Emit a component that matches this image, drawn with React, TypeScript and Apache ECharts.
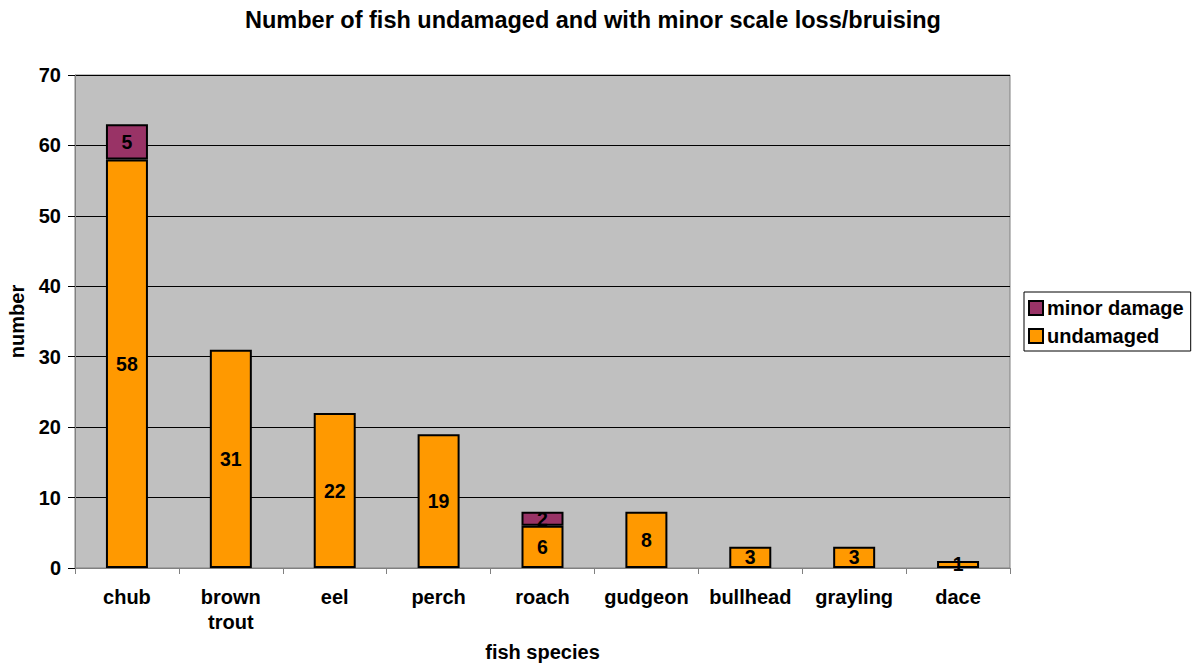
import React, { useEffect, useRef } from "react";
import * as echarts from "echarts";

const categories = ["chub", "brown\ntrout", "eel", "perch", "roach", "gudgeon", "bullhead", "grayling", "dace"];
const undamaged = [58, 31, 22, 19, 6, 8, 3, 3, 1];
const minorDamage = [5, null, null, null, 2, null, null, null, null];
const yTicks = { min: 0, max: 70, interval: 10 };

const FONT = "'Liberation Sans', Arial, sans-serif";

export default function App() {
  const ref = useRef<HTMLDivElement>(null);
  useEffect(() => {
    if (!ref.current) return;
    const chart = echarts.init(ref.current, null, { renderer: "svg" });
    const labelStyle = {
      show: true,
      position: "inside" as const,
      color: "#000",
      fontWeight: "bold" as const,
      fontSize: 19.5,
      fontFamily: FONT,
    };
    chart.setOption({
      animation: false,
      backgroundColor: "#fff",
      title: {
        text: "Number of fish undamaged and with minor scale loss/bruising",
        left: 588,
        textAlign: "center",
        top: 3,
        textStyle: { fontFamily: FONT, fontWeight: "bold", fontSize: 23.5, color: "#000" },
      },
      grid: {
        left: 75,
        right: 184,
        top: 75,
        bottom: 96,
        outerBoundsMode: "none",
        containLabel: false,
        show: true,
        backgroundColor: "#C0C0C0",
        borderColor: "#808080",
        borderWidth: 1,
      },
      legend: {
        orient: "vertical",
        left: 1024,
        top: 292,
        data: ["minor damage", "undamaged"],
        icon: "rect",
        borderColor: "#000",
        borderWidth: 1,
        padding: [6, 7, 5, 4],
        itemGap: 8,
        itemWidth: 14,
        itemHeight: 14,
        textStyle: { fontFamily: FONT, fontWeight: "bold", fontSize: 20, color: "#000", padding: [0, 0, 0, -1] },
      },
      xAxis: {
        type: "category",
        data: categories,
        name: "fish species",
        nameLocation: "middle",
        nameGap: 74,
        nameTextStyle: { fontFamily: FONT, fontWeight: "bold", fontSize: 20, color: "#000" },
        axisLine: { lineStyle: { color: "#808080" } },
        axisTick: { show: true, length: 6, lineStyle: { color: "#808080" } },
        axisLabel: { interval: 0, fontFamily: FONT, fontWeight: "bold", fontSize: 20, color: "#000", margin: 16, lineHeight: 25 },
      },
      yAxis: {
        type: "value",
        min: yTicks.min,
        max: yTicks.max,
        interval: yTicks.interval,
        name: "number",
        nameLocation: "middle",
        nameGap: 48,
        nameTextStyle: { fontFamily: FONT, fontWeight: "bold", fontSize: 20, color: "#000" },
        axisLine: { show: true, lineStyle: { color: "#808080" } },
        axisTick: { show: true, length: 7, lineStyle: { color: "#000" } },
        axisLabel: { fontFamily: FONT, fontWeight: "bold", fontSize: 20, color: "#000", margin: 14 },
        splitLine: { show: true, lineStyle: { color: "#000", width: 1 } },
      },
      series: [
        {
          name: "undamaged",
          type: "bar",
          stack: "total",
          data: undamaged,
          barWidth: 42,
          itemStyle: { color: "#FF9900", borderColor: "#000", borderWidth: 2 },
          label: labelStyle,
        },
        {
          name: "minor damage",
          type: "bar",
          stack: "total",
          data: minorDamage,
          barWidth: 42,
          itemStyle: { color: "#993366", borderColor: "#000", borderWidth: 2 },
          label: labelStyle,
        },
      ],
    });
    return () => chart.dispose();
  }, []);
  return <div ref={ref} style={{ position: "fixed", left: 0, top: 0, width: 1194, height: 664 }} />;
}
